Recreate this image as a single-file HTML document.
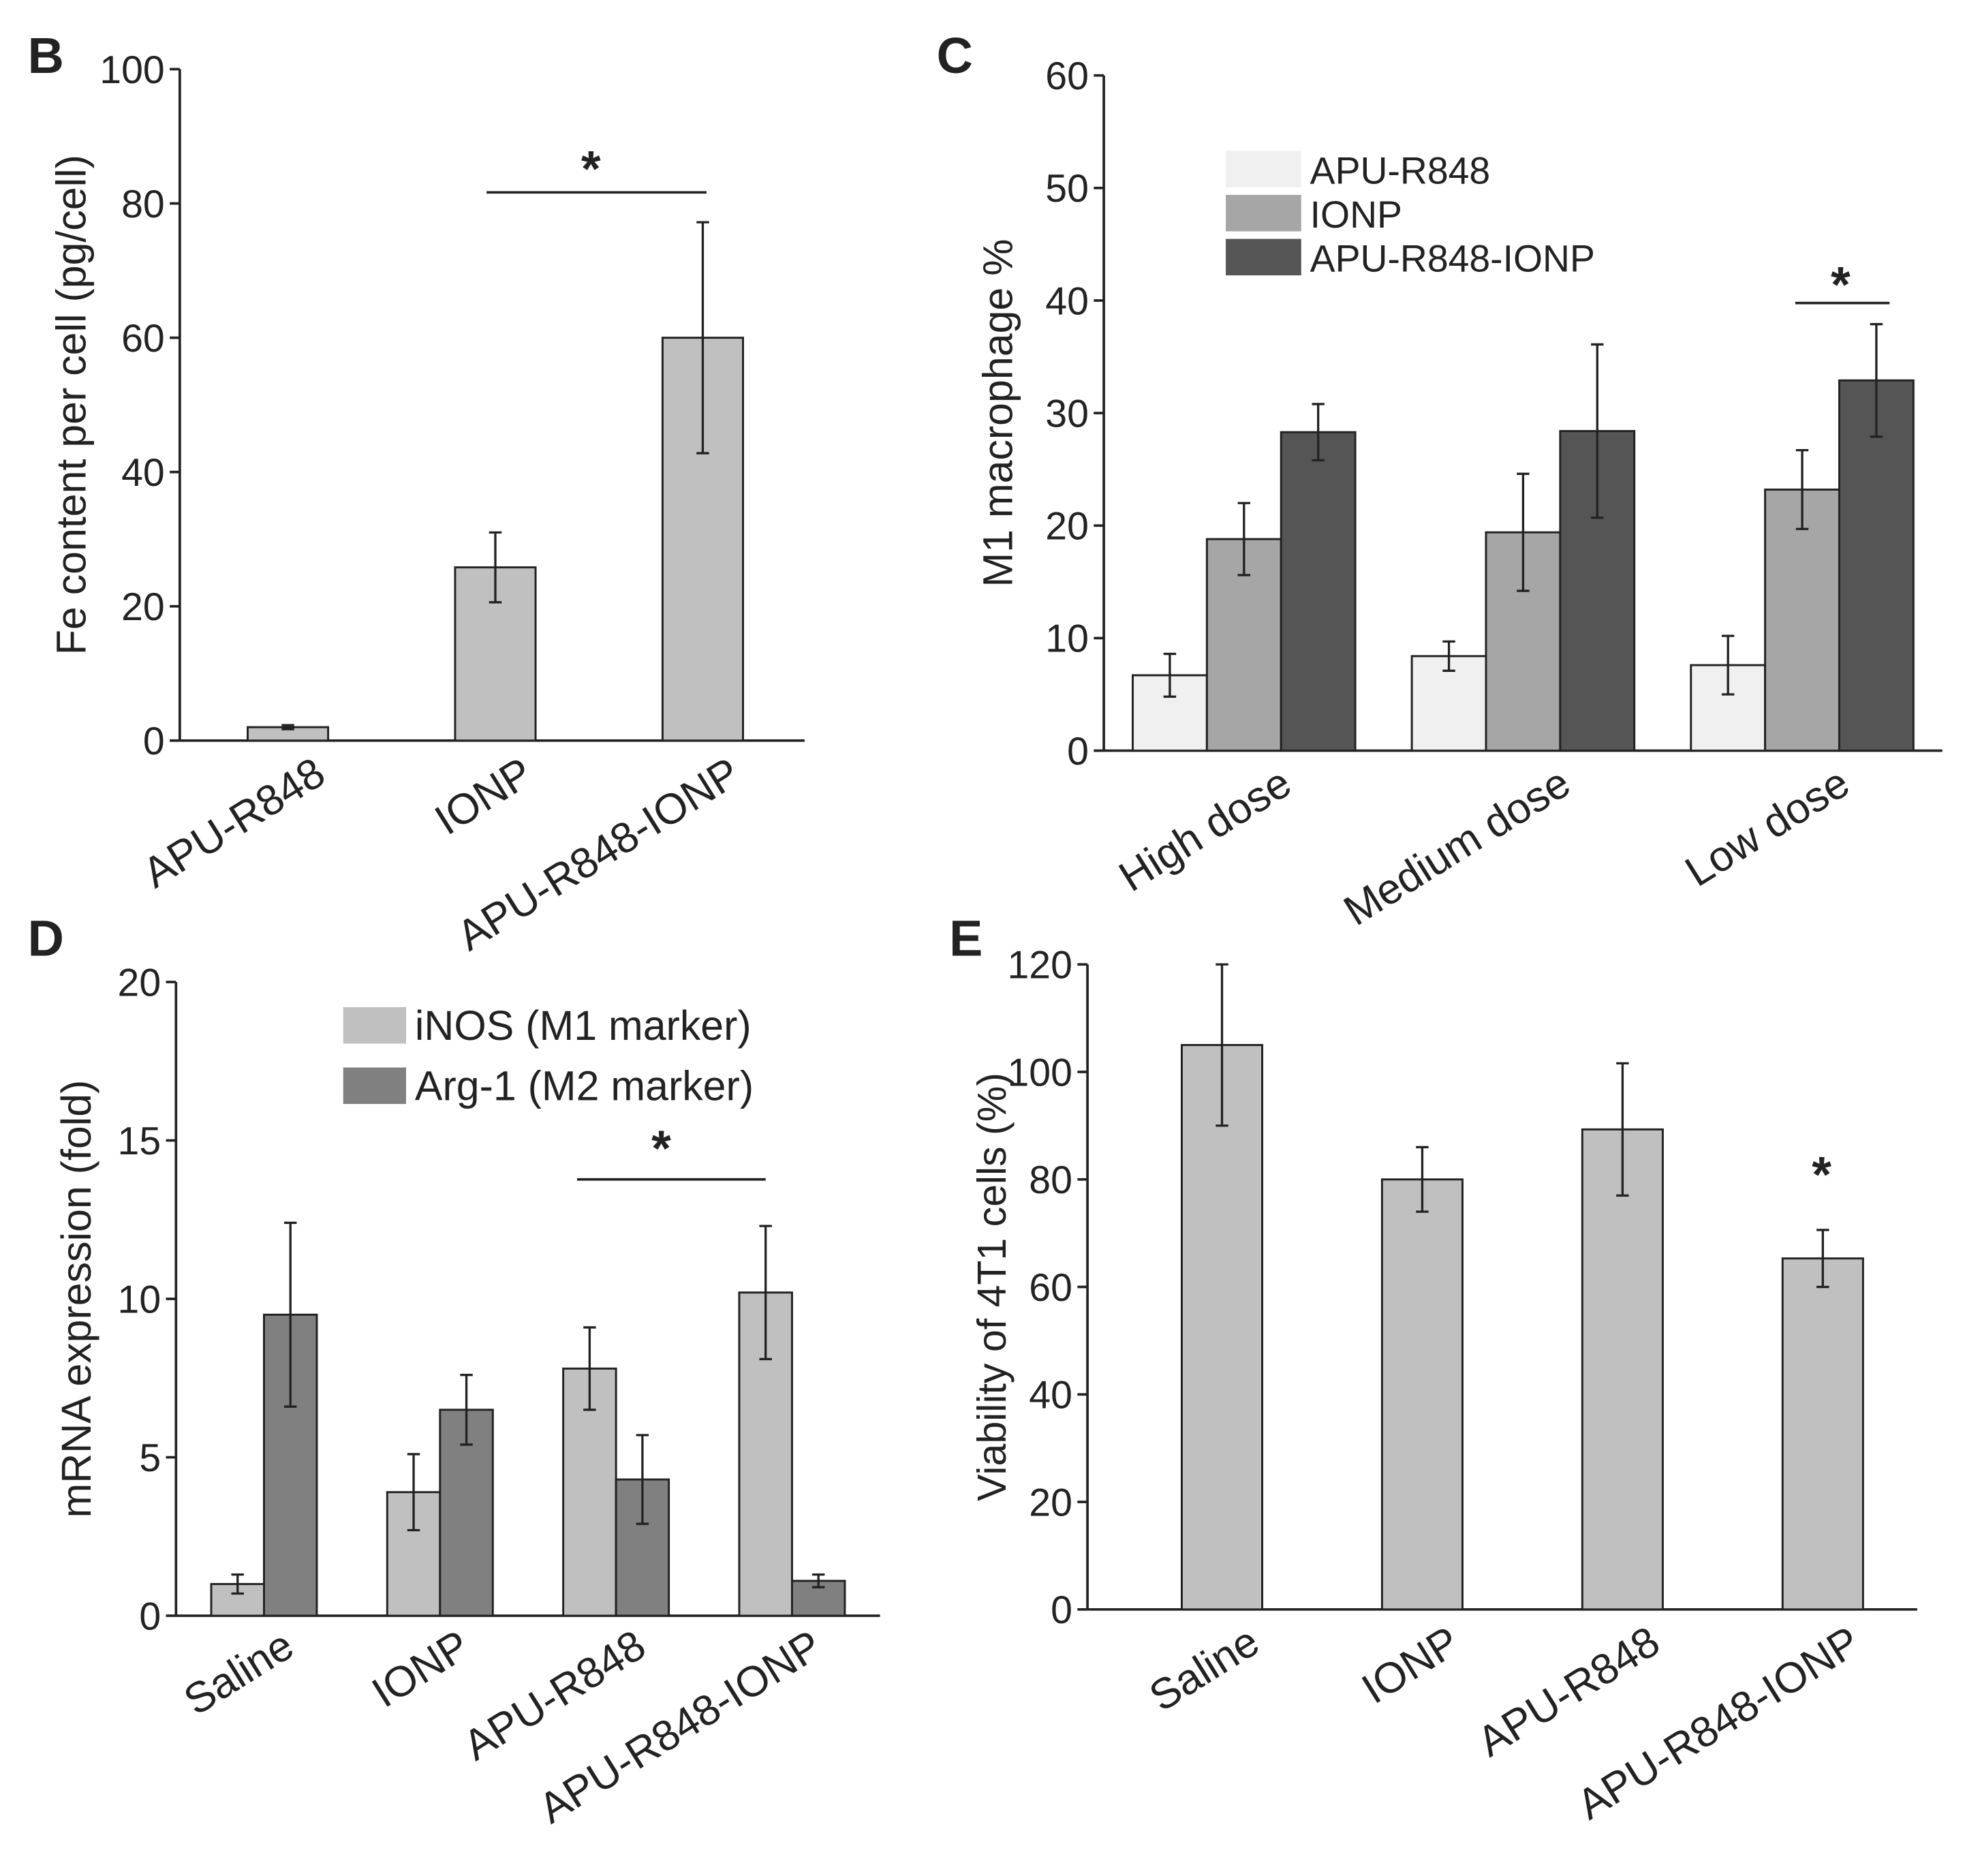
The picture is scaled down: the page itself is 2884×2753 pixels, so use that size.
<!DOCTYPE html>
<html><head><meta charset="utf-8"><style>
html,body{margin:0;padding:0;background:#fff}
svg{display:block}
text{font-family:"Liberation Sans",Arial,sans-serif;fill:#222}
</style></head><body>
<svg id="fig" width="2884" height="2753" viewBox="0 0 1563 1492" xmlns="http://www.w3.org/2000/svg"></svg>
<script>
// Panel B data
const bCats=["APU-R848","IONP","APU-R848-IONP"];
const bVals=[2,25.8,60];
const bErr=[0.3,5.2,17.2];
const bTicks=[0,20,40,60,80,100];
// Panel C data
const cCats=["High dose","Medium dose","Low dose"];
const cSeries=["APU-R848","IONP","APU-R848-IONP"];
const cVals=[[6.7,8.4,7.6],[18.8,19.4,23.2],[28.3,28.4,32.9]];
const cErr=[[1.9,1.3,2.6],[3.2,5.2,3.5],[2.5,7.7,5.0]];
const cTicks=[0,10,20,30,40,50,60];
// Panel D data
const dCats=["Saline","IONP","APU-R848","APU-R848-IONP"];
const dSeries=["iNOS (M1 marker)","Arg-1 (M2 marker)"];
const dVals=[[1.0,3.9,7.8,10.2],[9.5,6.5,4.3,1.1]];
const dErr=[[0.3,1.2,1.3,2.1],[2.9,1.1,1.4,0.2]];
const dTicks=[0,5,10,15,20];
// Panel E data
const eCats=["Saline","IONP","APU-R848","APU-R848-IONP"];
const eVals=[105,80,89.3,65.3];
const eErr=[15,6,12.3,5.3];
const eTicks=[0,20,40,60,80,100,120];

const svg=document.getElementById('fig');
const NS="http://www.w3.org/2000/svg";
function el(tag,attrs,parent){const e=document.createElementNS(NS,tag);for(const k in attrs)e.setAttribute(k,attrs[k]);(parent||svg).appendChild(e);return e;}
function txt(s,attrs,parent){const t=el('text',attrs,parent);t.textContent=s;return t;}

function panel(o){
  const g=el('g',{});
  
  
  const y=v=>o.y0-(v-o.vmin)/(o.vmax-o.vmin)*(o.y0-o.y1);
  const ya=el('line',{x1:o.ax,y1:o.y1,x2:o.ax,y2:o.y0,stroke:'#222','stroke-width':2},g);
  
  const xa=el('line',{x1:o.ax,y1:o.y0,x2:o.xend,y2:o.y0,stroke:'#222','stroke-width':2},g);
  
  o.ticks.forEach(t=>{
    el('line',{x1:o.ax-8,y1:y(t),x2:o.ax,y2:y(t),stroke:'#222','stroke-width':2},g);
    const tl=txt(String(t),{x:o.ax-12,y:y(t)+11,'text-anchor':'end','font-size':31},g);
    
  });
  const yt=txt(o.ytitle,{x:0,y:0,'text-anchor':'middle','font-size':o.ytfs||33,transform:`translate(${o.ytx},${(o.y0+o.y1)/2}) rotate(-90)`},g);
  
  const pl=txt(o.letter,{x:o.lx,y:o.ly,'font-size':40,'font-weight':'bold',fill:'#111'},g);
  
  o.cats.forEach((c,i)=>{
    o.series.forEach((s,j)=>{
      const v=o.vals[j][i],e=o.err[j][i];
      const x=o.gx0+i*o.gstep+j*o.bw;
      const r=el('rect',{x:x,y:y(v),width:o.bw,height:o.y0-y(v),fill:o.colors[j],stroke:'#222','stroke-width':1.6},g);
      
      const cx=x+o.bw/2;
      const eb=el('path',{d:`M${cx},${y(v+e)}V${y(v-e)}M${cx-5},${y(v+e)}H${cx+5}M${cx-5},${y(v-e)}H${cx+5}`,stroke:'#222','stroke-width':1.8,fill:'none'},g);
      
    });
    const cx=o.gx0+i*o.gstep+o.series.length*o.bw/2;
    const cl=txt(c,{x:0,y:0,'text-anchor':'end','font-size':34,transform:`translate(${cx+o.lblDx},${o.y0+o.lblDy}) rotate(-32)`},g);
    
  });
  return {g,y};
}

const B=panel({name:'panel-b',letter:'B',lx:22,ly:58,ax:143,xend:640,y0:589,y1:55,vmin:0,vmax:100,ticks:bTicks,
  ytitle:'Fe content per cell (pg/cell)',ytx:68,cats:bCats,series:['s'],vals:[bVals],err:[bErr],colors:['#c0c0c0'],
  gx0:197,gstep:165,bw:64,lblDx:32,lblDy:32});
const C=panel({name:'panel-c',letter:'C',lx:745,ly:58,ax:878,xend:1545,y0:597,y1:60,vmin:0,vmax:60,ticks:cTicks,
  ytitle:'M1 macrophage %',ytx:805,cats:cCats,series:cSeries,vals:cVals,err:cErr,colors:['#f0f0f0','#a6a6a6','#555555'],
  gx0:901,gstep:222,bw:59,lblDx:40,lblDy:32});
const D=panel({name:'panel-d',letter:'D',lx:22,ly:760,ax:140,xend:700,y0:1285,y1:781,vmin:0,vmax:20,ticks:dTicks,
  ytitle:'mRNA expression (fold)',ytx:72,cats:dCats,series:dSeries,vals:dVals,err:dErr,colors:['#c0c0c0','#808080'],
  gx0:168,gstep:140,bw:42,lblDx:26,lblDy:30});
const E=panel({name:'panel-e',letter:'E',lx:755,ly:760,ax:865,xend:1525,y0:1280,y1:767,vmin:0,vmax:120,ticks:eTicks,
  ytitle:'Viability of 4T1 cells (%)',ytx:800,ytfs:32,cats:eCats,series:['s'],vals:[eVals],err:[eErr],colors:['#c0c0c0'],
  gx0:940,gstep:159.3,bw:64,lblDx:32,lblDy:32});

function sig(g,x1,x2,yy,sx,sy){
  if(x1!==null){const l=el('line',{x1:x1,y1:yy,x2:x2,y2:yy,stroke:'#222','stroke-width':2},g);
  }
  const s=txt('*',{x:sx,y:sy,'text-anchor':'middle','font-size':40,'font-weight':'bold',fill:'#111'},g);
  
}
sig(B.g,387,562,153,470,148);
sig(C.g,1428,1503,241,1464,240);
sig(D.g,459,609,938,526,927);
sig(E.g,null,null,0,1449,948);

function legend(g,items,colors,x,y0,step,w,h,fs,tx){
  items.forEach((s,i)=>{
    const r=el('rect',{x:x,y:y0+i*step,width:w,height:h,fill:colors[i]},g);
    
    const t=txt(s,{x:tx,y:y0+i*step+h-3,'font-size':fs},g);
    
  });
}
legend(C.g,cSeries,['#f0f0f0','#a6a6a6','#555555'],975,120,35,60,29,30,1042);
legend(D.g,dSeries,['#c0c0c0','#808080'],273,801,48,50,29,33,330);
</script>
</body></html>
